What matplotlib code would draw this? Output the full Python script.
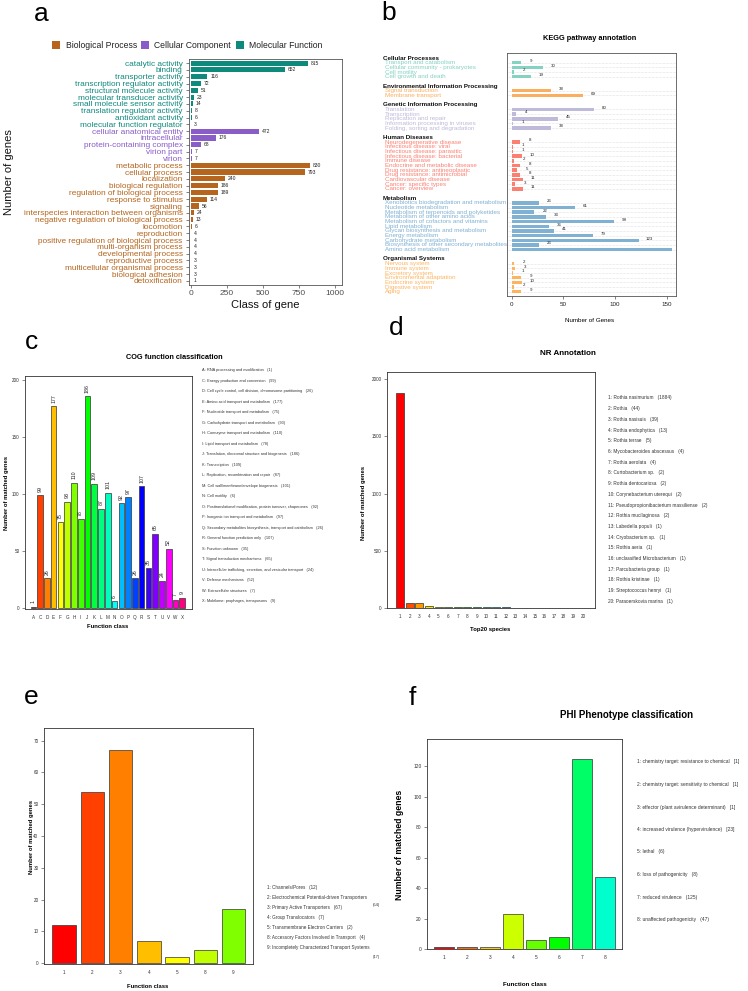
import matplotlib
matplotlib.use('Agg')
import matplotlib.pyplot as plt
from matplotlib.patches import Rectangle
from matplotlib import font_manager
import colorsys

# ---------------- data ----------------
# panel a: GO
go_terms = ['catalytic activity', 'binding', 'transporter activity', 'transcription regulator activity',
            'structural molecule activity', 'molecular transducer activity', 'small molecule sensor activity',
            'translation regulator activity', 'antioxidant activity', 'molecular function regulator',
            'cellular anatomical entity', 'intracellular', 'protein-containing complex', 'virion part', 'virion',
            'metabolic process', 'cellular process', 'localization', 'biological regulation',
            'regulation of biological process', 'response to stimulus', 'signaling',
            'interspecies interaction between organisms', 'negative regulation of biological process',
            'locomotion', 'reproduction', 'positive regulation of biological process', 'multi-organism process',
            'developmental process', 'reproductive process', 'multicellular organismal process',
            'biological adhesion', 'detoxification']
go_counts = [815, 652, 116, 72, 51, 23, 14, 8, 6, 3,
             472, 176, 68, 7, 7,
             830, 793, 240, 186, 189, 114, 56, 24, 13, 6, 4, 4, 4, 4, 3, 3, 3, 1]
go_class = ['Molecular Function'] * 10 + ['Cellular Component'] * 5 + ['Biological Process'] * 18
go_legend = ['Biological Process', 'Cellular Component', 'Molecular Function']

# panel b: KEGG
kegg_groups = ['Cellular Processes', 'Environmental Information Processing', 'Genetic Information Processing',
               'Human Diseases', 'Metabolism', 'Organismal Systems']
kegg_cp = ['Transport and catabolism', 'Cellular community - prokaryotes', 'Cell motility', 'Cell growth and death']
kegg_cp_n = [9, 30, 2, 19]
kegg_eip = ['Signal transduction', 'Membrane transport']
kegg_eip_n = [38, 69]
kegg_gip = ['Translation', 'Transcription', 'Replication and repair', 'Information processing in viruses',
            'Folding, sorting and degradation']
kegg_gip_n = [80, 4, 45, 1, 38]
kegg_hd = ['Neurodegenerative disease', 'Infectious disease: viral', 'Infectious disease: parasitic',
           'Infectious disease: bacterial', 'Immune disease', 'Endocrine and metabolic disease',
           'Drug resistance: antineoplastic', 'Drug resistance: antimicrobial', 'Cardiovascular disease',
           'Cancer: specific types', 'Cancer: overview']
kegg_hd_n = [8, 1, 1, 10, 2, 8, 5, 8, 11, 3, 11]
kegg_met = ['Xenobiotics biodegradation and metabolism', 'Nucleotide metabolism',
            'Metabolism of terpenoids and polyketides', 'Metabolism of other amino acids',
            'Metabolism of cofactors and vitamins', 'Lipid metabolism', 'Glycan biosynthesis and metabolism',
            'Energy metabolism', 'Carbohydrate metabolism', 'Biosynthesis of other secondary metabolites',
            'Amino acid metabolism']
kegg_met_n = [26, 61, 22, 33, 99, 36, 41, 79, 123, 26, 155]
kegg_os = ['Nervous system', 'Immune system', 'Excretory system', 'Environmental adaptation',
           'Endocrine system', 'Digestive system', 'Aging']
kegg_os_n = [2, 3, 1, 9, 10, 2, 9]

# panel c: COG
cog_codes = ['A', 'C', 'D', 'E', 'F', 'G', 'H', 'I', 'J', 'K', 'L', 'M', 'N', 'O', 'P', 'Q', 'R', 'S', 'T',
             'U', 'V', 'W', 'X']
cog_counts = [1, 99, 26, 177, 75, 93, 110, 78, 186, 109, 87, 101, 6, 92, 97, 26, 107, 35, 65, 24, 52, 7, 9]
cog_desc = ['RNA processing and modification', 'Energy production and conversion',
            'Cell cycle control, cell division, chromosome partitioning', 'Amino acid transport and metabolism',
            'Nucleotide transport and metabolism', 'Carbohydrate transport and metabolism',
            'Coenzyme transport and metabolism', 'Lipid transport and metabolism',
            'Translation, ribosomal structure and biogenesis', 'Transcription',
            'Replication, recombination and repair', 'Cell wall/membrane/envelope biogenesis', 'Cell motility',
            'Posttranslational modification, protein turnover, chaperones',
            'Inorganic ion transport and metabolism',
            'Secondary metabolites biosynthesis, transport and catabolism', 'General function prediction only',
            'Function unknown', 'Signal transduction mechanisms',
            'Intracellular trafficking, secretion, and vesicular transport', 'Defense mechanisms',
            'Extracellular structures', 'Mobilome: prophages, transposons']

# panel d: NR
nr_species = ['Rothia nasimurium', 'Rothia', 'Rothia nasisuis', 'Rothia endophytica', 'Rothia terrae',
              'Mycobacteroides abscessus', 'Rothia aerolata', 'Curtobacterium sp.', 'Rothia dentocariosa',
              'Corynebacterium uterequi', 'Pseudopropionibacterium massiliense', 'Rothia mucilaginosa',
              'Labedella populi', 'Cryobacterium sp.', 'Rothia aeria', 'unclassified Microbacterium',
              'Parcubacteria group', 'Rothia kristinae', 'Streptococcus henryi', 'Paraoerskovia marina']
nr_counts = [1884, 44, 39, 13, 5, 4, 4, 2, 2, 2, 2, 2, 1, 1, 1, 1, 1, 1, 1, 1]

# panel e: TCDB
tc_ids = ['1', '2', '3', '4', '5', '8', '9']
tc_names = ['Channels/Pores', 'Electrochemical Potential-driven Transporters', 'Primary Active Transporters',
            'Group Translocators', 'Transmembrane Electron Carriers', 'Accessory Factors Involved in Transport',
            'Incompletely Characterized Transport Systems']
tc_counts = [12, 54, 67, 7, 2, 4, 17]

# panel f: PHI
phi_names = ['chemistry target: resistance to chemical', 'chemistry target: sensitivity to chemical',
             'effector (plant avirulence determinant)', 'increased virulence (hypervirulence)', 'lethal',
             'loss of pathogenicity', 'reduced virulence', 'unaffected pathogenicity']
phi_counts = [1, 1, 1, 23, 6, 8, 125, 47]

# ---------------- setup ----------------
names = {f.name for f in font_manager.fontManager.ttflist}
NARROW = 'Liberation Sans Narrow' in names
plt.rcParams['font.family'] = ['Liberation Sans', 'DejaVu Sans']
NFAM = ['Liberation Sans Narrow', 'Liberation Sans'] if NARROW else ['Liberation Sans']
NSCALE = 1.2 if NARROW else 1.0

W, H = 748, 991
fig = plt.figure(figsize=(W / 100, H / 100), dpi=100)


def axes_px(l, t, r, b):
    return fig.add_axes([l / W, 1 - b / H, (r - l) / W, (b - t) / H])


def ftext(x, y, s, **kw):
    return fig.text(x / W, 1 - y / H, s, **kw)


def rainbow(h):
    return colorsys.hsv_to_rgb(h % 1.0, 1, 1)


def r_axes(ax, ysize=3.3):
    for s in ax.spines.values():
        s.set_color('#333333')
        s.set_linewidth(0.6)
    ax.tick_params(axis='y', length=2.5, width=0.4, labelsize=ysize, pad=1.5, colors='#333333')
    ax.tick_params(axis='x', length=0, labelsize=ysize, pad=4, colors='#333333')


# panel letters
for lt, x, y in [('a', 41, 14), ('b', 389, 13), ('c', 31, 342), ('d', 396, 328), ('e', 31, 697), ('f', 412, 698)]:
    ftext(x, y, lt, fontsize=19, ha='center', va='center')

# ---------------- panel a ----------------
go_col = {'Biological Process': '#B5651D', 'Cellular Component': '#8A5CC8', 'Molecular Function': '#0E8A7D'}
axa = axes_px(189, 59, 342, 285)
ya = list(range(len(go_terms)))
cols_a = [go_col[c] for c in go_class]
axa.barh(ya, go_counts, height=0.75, color=cols_a)
for y, v in zip(ya, go_counts):
    axa.text(v + 20, y, str(v), fontsize=3.6, va='center', ha='left', color='#222222')
axa.set_ylim(32.6, -0.6)
axa.set_xlim(-12, 1050)
axa.set_yticks(ya)
axa.set_yticklabels(go_terms, fontsize=5.95)
axa.set_xticks([0, 250, 500, 750, 1000])
axa.tick_params(axis='x', labelsize=6, colors='#4d4d4d', length=2, width=0.5, pad=1.5)
axa.tick_params(axis='y', length=2, width=0.5, colors='#4d4d4d', pad=2.5)
for lbl, c in zip(axa.get_yticklabels(), cols_a):
    lbl.set_color(c)
for s in axa.spines.values():
    s.set_color('#555555')
    s.set_linewidth(0.6)
ftext(265, 305, 'Class of gene', fontsize=8, ha='center', va='center', color='#111111')
ftext(9, 172, 'Number of genes', fontsize=8, rotation=90, ha='center', va='center', color='#111111')
for name, sx, tx in zip(go_legend, [52, 141, 236], [66, 154, 249]):
    fig.add_artist(Rectangle((sx / W, 1 - 49 / H), 8 / W, 8 / H, transform=fig.transFigure,
                             facecolor=go_col[name], edgecolor='none'))
    ftext(tx, 45, name, fontsize=6.2, ha='left', va='center', color='#222222')

# ---------------- panel b ----------------
kegg_cols = ['#84D2C2', '#FCAE60', '#BEBADA', '#FB8072', '#80B1D3', '#FDB462']
kegg_items = [kegg_cp, kegg_eip, kegg_gip, kegg_hd, kegg_met, kegg_os]
kegg_vals = [kegg_cp_n, kegg_eip_n, kegg_gip_n, kegg_hd_n, kegg_met_n, kegg_os_n]
axb = axes_px(507, 53, 676, 296)
row = 0
ROW0, RSTEP = 58.0, 4.674
for g, (gname, items, vals, col) in enumerate(zip(kegg_groups, kegg_items, kegg_vals, kegg_cols)):
    ftext(383, ROW0 + row * RSTEP, gname, fontsize=4.5, fontweight='bold', ha='left', va='center', color='#111111')
    row += 1
    for it, v in zip(items, vals):
        axb.axhline(row, color='#c8c8c8', lw=0.4, ls=(0, (1, 1.5)), zorder=0)
        axb.barh(row, v, height=0.75, color=col, zorder=2)
        if v < 150:
            axb.text(v + 10, row - 0.35, str(v), fontsize=3.2, ha='center', va='center', color='#222222')
        ftext(385, ROW0 + row * RSTEP, it, fontsize=4.5, ha='left', va='center', color=col)
        row += 1
    row += 1
axb.set_ylim(50.92, -1.07)
axb.set_xlim(-4.5, 159)
axb.set_yticks([])
axb.set_xticks([0, 50, 100, 150])
axb.tick_params(axis='x', labelsize=4.5, length=2.5, width=0.4, pad=2, colors='#222222')
for s in axb.spines.values():
    s.set_color('#555555')
    s.set_linewidth(0.6)
ftext(590, 39, 'KEGG pathway annotation', fontsize=5.3, fontweight='bold', ha='center', va='center')
ftext(590, 321, 'Number of Genes', fontsize=4.5, ha='center', va='center')

# ---------------- panel c ----------------
axc = axes_px(25, 376, 192, 609)
xc = list(range(len(cog_codes)))
cols_c = [rainbow(i / 24.0) for i in range(len(cog_codes))]
axc.bar(xc, cog_counts, width=0.83, color=cols_c, edgecolor='#333333', linewidth=0.5)
for x, v in zip(xc, cog_counts):
    axc.text(x, v + 3, str(v), rotation=90, fontsize=3.8, ha='center', va='bottom', color='#222222')
axc.set_ylim(-1, 203.5)
axc.set_xlim(-1.23, 23.44)
axc.set_yticks([0, 50, 100, 150, 200])
axc.set_xticks(xc)
axc.set_xticklabels(cog_codes)
r_axes(axc)
ftext(174, 358, 'COG function classification', fontsize=5.3, fontweight='bold', ha='center', va='center')
ftext(7, 493, 'Number of matched genes', fontsize=4.2, fontweight='bold', rotation=90, ha='center', va='center')
ftext(108, 626, 'Function class', fontsize=4.2, fontweight='bold', ha='center', va='center')
for i, (c, d, v) in enumerate(zip(cog_codes, cog_desc, cog_counts)):
    ftext(202, 370 + i * 10.52, f'{c}: {d}   ({v})', fontsize=2.8 * NSCALE, family=NFAM,
          ha='left', va='center', color='#333333')

# ---------------- panel d ----------------
axd = axes_px(387, 372, 595, 608)
xd = list(range(len(nr_counts)))
cols_d = [rainbow(i / 20.0) for i in range(len(nr_counts))]
axd.bar(xd, nr_counts, width=0.83, color=cols_d, edgecolor='#333333', linewidth=0.5)
axd.set_ylim(-2.6, 2064)
axd.set_xlim(-1.35, 20.25)
axd.set_yticks([0, 500, 1000, 1500, 2000])
axd.set_xticks(xd)
axd.set_xticklabels([str(i + 1) for i in xd])
r_axes(axd)
ftext(568, 354, 'NR Annotation', fontsize=5.8, fontweight='bold', ha='center', va='center')
ftext(363, 503, 'Number of matched genes', fontsize=4.2, fontweight='bold', rotation=90, ha='center', va='center')
ftext(490, 629, 'Top20 species', fontsize=4.2, fontweight='bold', ha='center', va='center')
for i, (s, v) in enumerate(zip(nr_species, nr_counts)):
    ftext(608, 398 + i * 10.7, f'{i + 1}: {s}   ({v})', fontsize=3.4 * NSCALE, family=NFAM,
          ha='left', va='center', color='#333333')

# ---------------- panel e ----------------
axe = axes_px(44, 728, 253, 964)
xe = list(range(len(tc_counts)))
cols_e = [rainbow(i / 24.0) for i in range(len(tc_counts))]
axe.bar(xe, tc_counts, width=0.83, color=cols_e, edgecolor='#333333', linewidth=0.5)
axe.set_ylim(-0.3, 74)
axe.set_xlim(-0.71, 6.69)
axe.set_yticks(list(range(0, 71, 10)))
axe.set_xticks(xe)
axe.set_xticklabels(tc_ids)
r_axes(axe)
ftext(32, 837, 'Number of matched genes', fontsize=4.2, fontweight='bold', rotation=90, ha='center', va='center')
ftext(148, 986, 'Function class', fontsize=4.2, fontweight='bold', ha='center', va='center')
for i, (t, s, v) in enumerate(zip(tc_ids, tc_names, tc_counts)):
    txt = f'{t}: {s}   ({v})' if t not in ('2', '9') else f'{t}: {s}'
    ftext(267, 888 + i * 10, txt, fontsize=3.3 * NSCALE, family=NFAM, ha='left', va='center', color='#333333')
ftext(373, 905, f'({tc_counts[1]})', fontsize=3.0 * NSCALE, family=NFAM, ha='left', va='center', color='#333333')
ftext(373, 957, f'({tc_counts[6]})', fontsize=3.0 * NSCALE, family=NFAM, ha='left', va='center', color='#333333')

# ---------------- panel f ----------------
axf = axes_px(427, 739, 622, 949)
xf = list(range(len(phi_counts)))
cols_f = [rainbow(i / 15.0) for i in range(len(phi_counts))]
axf.bar(xf, phi_counts, width=0.84, color=cols_f, edgecolor='#333333', linewidth=0.5)
axf.set_ylim(0, 138)
axf.set_xlim(-0.74, 7.74)
axf.set_yticks(list(range(0, 121, 20)))
axf.set_xticks(xf)
axf.set_xticklabels([str(i + 1) for i in xf])
r_axes(axf, ysize=3.5)
ftext(627, 715, 'PHI Phenotype classification', fontsize=7, fontweight='bold', ha='center', va='center')
ftext(400, 845, 'Number of matched genes', fontsize=6.3, fontweight='bold', rotation=90, ha='center', va='center')
ftext(525, 985, 'Function class', fontsize=4.5, fontweight='bold', ha='center', va='center')
for i, (s, v) in enumerate(zip(phi_names, phi_counts)):
    ftext(637, 762 + i * 22.5, f'{i + 1}: {s}   [{v}]' if i < 4 else f'{i + 1}: {s}   ({v})',
          fontsize=3.5 * NSCALE, family=NFAM, ha='left', va='center', color='#333333')

fig.savefig('out.png', dpi=100)
